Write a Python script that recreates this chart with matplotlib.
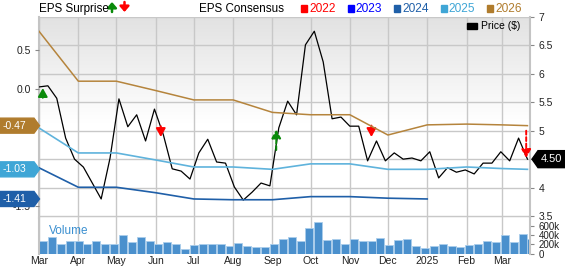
import numpy as np
import pandas as pd
import matplotlib
matplotlib.use("Agg")
import matplotlib.pyplot as plt
from matplotlib.patches import Polygon, Rectangle
from matplotlib.colors import LinearSegmentedColormap

plt.rcParams['font.family'] = ['Liberation Sans', 'DejaVu Sans']

# ---------------- data ----------------
weeks = pd.date_range('2024-03-01', periods=56, freq='7D')
price = [5.77, 5.79, 5.57, 4.87, 4.50, 4.36, 4.08, 3.80, 4.52, 5.56,
         5.07, 5.28, 4.82, 5.38, 4.93, 4.33, 4.29, 4.15, 4.61, 4.85,
         4.45, 4.43, 4.01, 3.78, 3.92, 4.08, 4.03, 5.05, 5.52, 5.28,
         6.51, 6.75, 6.21, 5.21, 5.24, 5.08, 5.08, 4.47, 4.82, 4.47,
         4.61, 4.50, 4.52, 4.47, 4.63, 4.17, 4.35, 4.27, 4.31, 4.24,
         4.43, 4.43, 4.63, 4.47, 4.87, 4.50]
volume_k = [275, 345, 213, 275, 275, 200, 260, 213, 213, 400,
            255, 357, 260, 206, 240, 206, 103, 178, 213, 213,
            213, 172, 227, 172, 130, 130, 213, 310, 357, 275,
            557, 672, 295, 320, 206, 310, 275, 275, 330, 185,
            290, 310, 172, 115, 158, 200, 172, 137, 185, 200,
            264, 255, 395, 240, 415, 310]

eps_dates = pd.to_datetime(['2024-03-01', '2024-04-01', '2024-05-01', '2024-06-01',
                            '2024-07-01', '2024-08-01', '2024-09-01', '2024-10-01',
                            '2024-11-01', '2024-12-01', '2025-01-01', '2025-02-01',
                            '2025-03-01', '2025-03-21'])
eps_2024 = [-1.01, -1.26, -1.26, -1.33, -1.41, -1.42, -1.42, -1.38, -1.38, -1.40, -1.41]
eps_2025 = [-0.50, -0.82, -0.82, -0.91, -1.00, -1.00, -1.03, -0.96, -0.96, -1.03, -1.03,
            -1.00, -1.02, -1.03]
eps_2026 = [0.74, 0.10, 0.10, -0.02, -0.14, -0.14, -0.30, -0.33, -0.33, -0.59, -0.46,
            -0.45, -0.46, -0.47]

# earnings surprise arrows (price scale)
surp_dates = pd.to_datetime(['2024-03-04', '2024-06-05', '2024-09-04', '2024-11-18', '2025-03-20'])
surp_from = [5.58, 5.08, 4.66, 5.09, 5.00]
surp_to = [5.75, 4.89, 5.02, 4.89, 4.52]
surp_col = ['#0a8a0a', '#ff0000', '#0a8a0a', '#ff0000', '#ff0000']
surp_dash = [False, False, True, False, True]

month_ticks = pd.date_range('2024-03-01', '2025-03-01', freq='MS')
month_labels = ['Mar', 'Apr', 'May', 'Jun', 'Jul', 'Aug', 'Sep', 'Oct', 'Nov', 'Dec',
                '2025', 'Feb', 'Mar']

years = ['2022', '2023', '2024', '2025', '2026']
year_cols = ['#ff0000', '#0000ff', '#1f5fa8', '#3fa6d6', '#b07c2d']
badges = [-0.47, -1.03, -1.41]
badge_cols = ['#b07c2d', '#3fa6d6', '#1f5fa8']

# ---------------- layout ----------------
W, H = 565, 266
fig = plt.figure(figsize=(W / 100, H / 100), dpi=100)


def fx(px):
    return px / W


def fy(py):
    return 1 - py / H


grid_c = '#c8c8c8'
ax = fig.add_axes([fx(39), fy(218), fx(530) - fx(39), fy(17) - fy(218)])
axv = fig.add_axes([fx(39), fy(253.5), fx(530) - fx(39), fy(218) - fy(253.5)], sharex=ax)
axe = ax.twinx()

# background gradient
cmap = LinearSegmentedColormap.from_list('bg', ['#e2e2e2', '#ffffff'])
grad = np.clip(np.linspace(0, 1.9, 200), 0, 1).reshape(-1, 1)
ax.imshow(grad, extent=[0, 1, 0, 1], transform=ax.transAxes, aspect='auto',
          cmap=cmap, zorder=0, origin='upper')

xmin, xmax = pd.Timestamp('2024-03-01'), pd.Timestamp('2025-03-23')

# price
ax.plot(weeks, price, color='black', lw=0.9, zorder=4)
ax.set_ylim(3.465, 7)
ax.set_yticks([3.5, 4, 4.5, 5, 5.5, 6, 6.5, 7])
# 4.5 sits under the last-price badge
ax.set_yticklabels(['3.5', '4', '', '5', '5.5', '6', '6.5', '7'])
ax.yaxis.tick_right()
ax.grid(True, color=grid_c, lw=1)
ax.set_axisbelow(True)

for d, y0, y1, c, dash in zip(surp_dates, surp_from, surp_to, surp_col, surp_dash):
    ax.annotate('', xy=(d, y1), xytext=(d, y0),
                arrowprops=dict(arrowstyle='-|>,head_width=0.28,head_length=0.5',
                                color=c, lw=1.4,
                                linestyle=(0, (2, 1.3)) if dash else '-',
                                shrinkA=0, shrinkB=0), zorder=6)

# EPS consensus
axe.plot(eps_dates[:len(eps_2024)], eps_2024, color='#1f5fa8', lw=1.2)
axe.plot(eps_dates, eps_2025, color='#5fb3dc', lw=1.2)
axe.plot(eps_dates, eps_2026, color='#b5843c', lw=1.1)
axe.set_ylim(-1.654, 0.923)
axe.yaxis.tick_left()
axe.set_yticks([0.5, 0.0, -1.5])
axe.set_yticklabels(['0.5', '0.0', '-1.5'])

# volume
axv.bar(weeks, volume_k, width=6.3, align='edge', color='#4a90cd',
        edgecolor='#aacdeb', linewidth=0.6)
axv.set_ylim(0, 765)
axv.yaxis.tick_right()
axv.set_yticks([0, 200, 400, 600])
axv.set_yticklabels(['0', '200k', '400k', '600k'])
axv.grid(True, axis='x', color=grid_c, lw=1)
axv.set_axisbelow(True)
axv.text(0.02, 0.62, 'Volume', transform=axv.transAxes, color='#3a8fd0',
         fontsize=8.5, va='center')

ax.set_xlim(xmin, xmax)
axv.set_xticks(month_ticks)
axv.set_xticklabels(month_labels)

for a in (ax, axe, axv):
    a.tick_params(labelsize=7.5, colors='#222222', length=3, width=0.8)
    a.tick_params(axis='y', color='#888888', pad=3)
axv.tick_params(axis='y', labelsize=7)
ax.tick_params(axis='x', labelbottom=False, length=0)
axv.tick_params(axis='x', length=0, pad=2)

ax.spines['top'].set_visible(False)
axv.spines['top'].set_visible(False)
for a in (ax, axv):
    a.spines['left'].set_color('#c4c4c4')
    a.spines['left'].set_linewidth(1.5)
    a.spines['right'].set_color('#c4c4c4')
    a.spines['right'].set_linewidth(1.5)
ax.spines['bottom'].set_color('#c8c8c8')
axv.spines['bottom'].set_visible(False)
for s in axe.spines.values():
    s.set_visible(False)

# ---------------- header ----------------
fig.text(fx(39), fy(9), 'EPS Surprise', fontsize=8.4, va='center', ha='left')
for xpx, c, up in ((112, '#0a8a0a', True), (124.5, '#ff0000', False)):
    y_a, y_b = (12, 2) if up else (2, 12)
    fig.add_artist(plt.Annotation('', xy=(fx(xpx), fy(y_b)), xytext=(fx(xpx), fy(y_a)),
                                  xycoords='figure fraction', textcoords='figure fraction',
                                  arrowprops=dict(arrowstyle='-|>,head_width=0.28,head_length=0.32',
                                                  color=c, lw=1.8, shrinkA=0, shrinkB=0)))
fig.text(fx(199), fy(9), 'EPS Consensus', fontsize=8.4, va='center', ha='left')
x0 = 301
for yr, c in zip(years, year_cols):
    fig.patches.append(Rectangle((fx(x0), fy(12)), fx(6), fy(5) - fy(12), color=c,
                                 transform=fig.transFigure, figure=fig))
    fig.text(fx(x0 + 8), fy(9), yr, fontsize=8.6, color=c, va='center', ha='left')
    x0 += 46.6

# price legend
fig.patches.append(Rectangle((fx(467), fy(29)), fx(10), fy(23) - fy(29), color='black',
                             transform=fig.transFigure, figure=fig))
fig.text(fx(481), fy(26), 'Price ($)', fontsize=7.5, va='center', ha='left')

# left EPS badges
for v, c in zip(badges, badge_cols):
    yc = 89 - v * 78
    pts = [(0, yc - 7.5), (34, yc - 7.5), (39.5, yc), (34, yc + 7.5), (0, yc + 7.5)]
    fig.patches.append(Polygon([(fx(a), fy(b)) for a, b in pts], closed=True, color=c,
                               transform=fig.transFigure, figure=fig, zorder=5))
    fig.text(fx(3), fy(yc), f'{v:.2f}', fontsize=7.5, color='white', va='center',
             ha='left', zorder=6)

# right price badge
last = price[-1]
yc = 17 + (7 - last) * 56.86
pts = [(532, yc), (538, yc - 8.5), (565, yc - 8.5), (565, yc + 8.5), (538, yc + 8.5)]
fig.patches.append(Polygon([(fx(a), fy(b)) for a, b in pts], closed=True, color='black',
                           transform=fig.transFigure, figure=fig, zorder=5))
fig.text(fx(541), fy(yc), f'{last:.2f}', fontsize=8, color='white', va='center',
         ha='left', zorder=6)

fig.savefig('out.png', dpi=100)
